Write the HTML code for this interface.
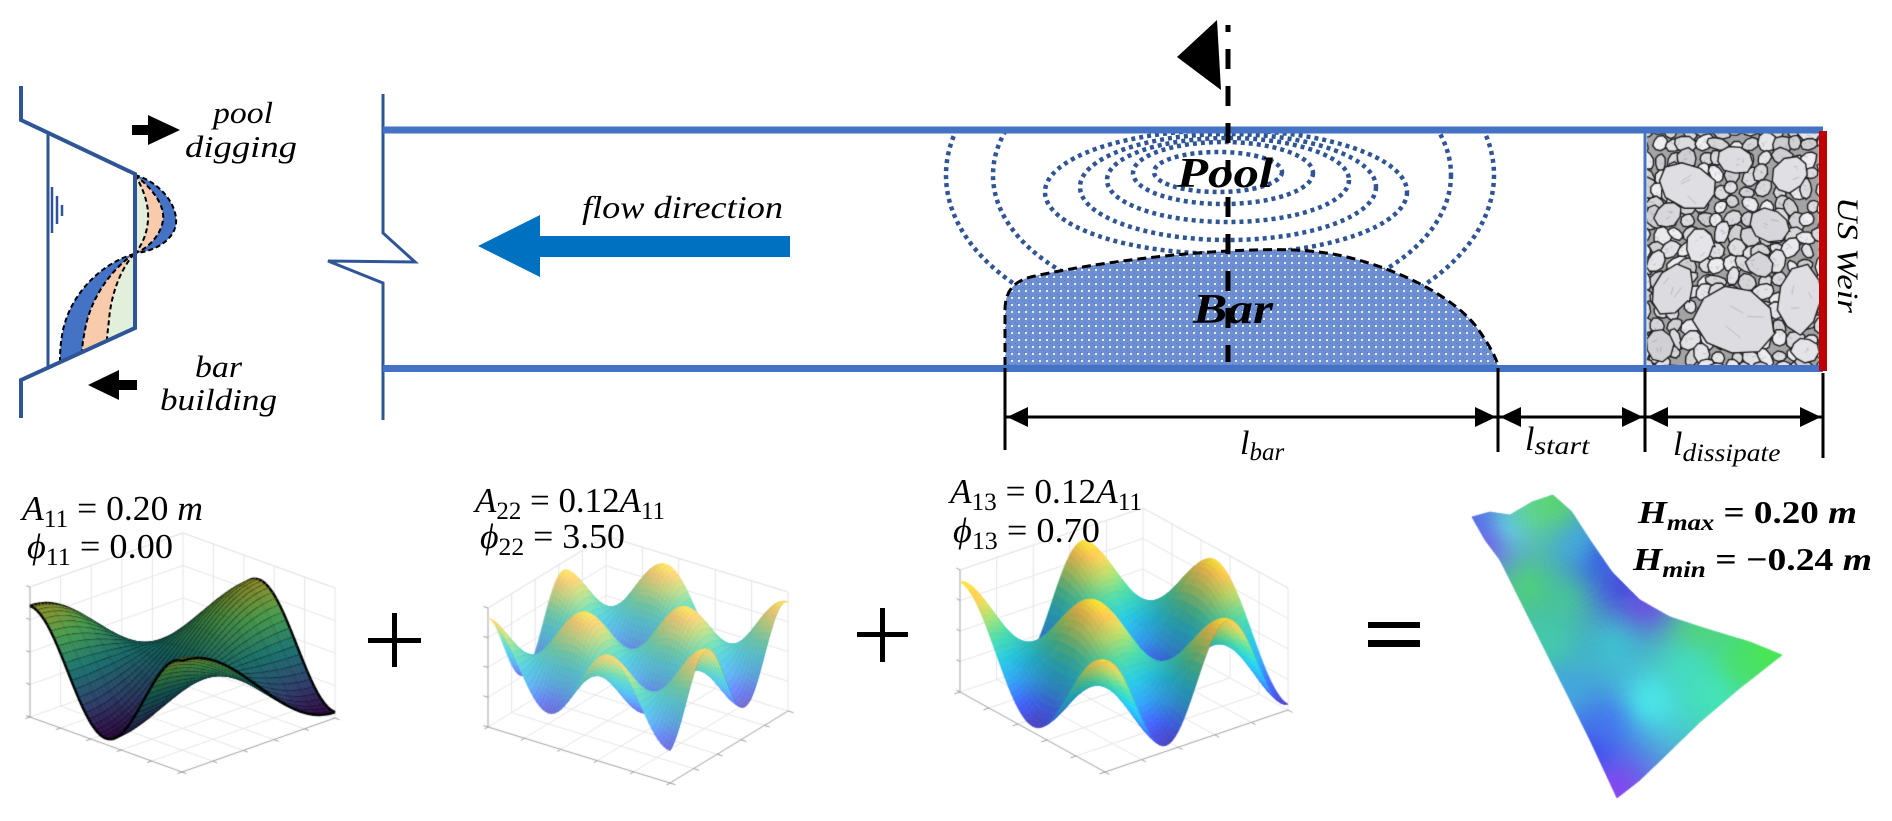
<!DOCTYPE html>
<html><head><meta charset="utf-8">
<style>
html,body{margin:0;padding:0;background:#fff;}
#wrap{position:relative;width:1892px;height:821px;overflow:hidden;background:#fff;}
#cv,#sv{position:absolute;left:0;top:0;}
</style></head><body><div id="wrap">
<canvas id="cv" width="1892" height="821"></canvas>
<svg id="sv" width="1892" height="821" viewBox="0 0 1892 821" xmlns="http://www.w3.org/2000/svg">
<defs>
<pattern id="dots" width="7" height="7" patternUnits="userSpaceOnUse">
<rect width="7" height="7" fill="#6f8fd3"/>
<rect x="0" y="0" width="1" height="1" fill="#4a74c8"/>
<rect x="2" y="2" width="1" height="1" fill="#4a74c8"/>
<rect x="4" y="4" width="1" height="1" fill="#4a74c8"/>
<rect x="3" y="3" width="2" height="2" fill="#ffffff" opacity="0.85"/>
</pattern>
<clipPath id="chan"><rect x="383" y="133" width="1440" height="232"/></clipPath>
</defs>

<!-- ===== Cross-section (left) ===== -->
<path d="M135,175 C160,182 178,205 176,224 C173,242 152,252 135,253 Z" fill="#4472c4"/>
<path d="M135,175 C152,188 165,205 163,220 C161,236 146,250 135,253 Z" fill="#f8cbad"/>
<path d="M135,175 C144,190 149,205 148,220 C147,236 140,248 135,253 Z" fill="#e2efda"/>
<g fill="none" stroke="#000" stroke-width="2" stroke-dasharray="5 3">
<path d="M135,175 C160,182 178,205 176,224 C173,242 152,252 135,253"/>
<path d="M135,175 C152,188 165,205 163,220 C161,236 146,250 135,253"/>
<path d="M135,175 C144,190 149,205 148,220 C147,236 140,248 135,253"/>
</g>
<path d="M134,254 C105,262 72,290 63,330 C60,345 60,355 60,362 L135,328 Z" fill="#4472c4"/>
<path d="M134,254 C110,270 90,300 85,330 C83,340 82,348 82,352 L135,328 Z" fill="#f8cbad"/>
<path d="M134,254 C120,270 111,295 109,320 C108,330 107,335 107,341 L135,328 Z" fill="#e2efda"/>
<g fill="none" stroke="#000" stroke-width="2" stroke-dasharray="5 3">
<path d="M134,254 C105,262 72,290 63,330 C60,345 60,355 60,362"/>
<path d="M134,254 C110,270 90,300 85,330 C83,340 82,348 82,352"/>
<path d="M134,254 C120,270 111,295 109,320 C108,330 107,335 107,341"/>
</g>
<g fill="none" stroke="#2f5597" stroke-width="4" stroke-linejoin="miter">
<polyline points="21,86 21,120 135,174 135,328 21,380 21,418"/>
</g>
<line x1="48" y1="133" x2="48" y2="367" stroke="#2f5597" stroke-width="3"/>
<g stroke="#2f5597" stroke-width="2.5">
<line x1="52" y1="187" x2="52" y2="233"/>
<line x1="57" y1="196" x2="57" y2="224"/>
<line x1="62" y1="205" x2="62" y2="216"/>
</g>
<polygon points="132,125 148,125 148,115 180,130 148,145 148,135 132,135" fill="#000"/>
<polygon points="137,380 119,380 119,370 88,385 119,400 119,390 137,390" fill="#000"/>
<g font-family="'Liberation Serif', serif" font-style="italic" fill="#000">
<text x="213" y="123" font-size="31" textLength="60" lengthAdjust="spacingAndGlyphs">pool</text>
<text x="185" y="157" font-size="31" textLength="112" lengthAdjust="spacingAndGlyphs">digging</text>
<text x="195" y="377" font-size="31" textLength="47" lengthAdjust="spacingAndGlyphs">bar</text>
<text x="160" y="410" font-size="31" textLength="117" lengthAdjust="spacingAndGlyphs">building</text>
</g>

<!-- ===== Channel ===== -->
<polyline points="383,94 383,233 415,262 328,261 383,283 383,420" fill="none" stroke="#2f5597" stroke-width="3"/>

<g clip-path="url(#chan)" fill="none" stroke="#2f5597" stroke-width="4.5" stroke-dasharray="4 4">
<ellipse cx="1220" cy="175" rx="274" ry="165"/>
<ellipse cx="1222" cy="175" rx="229" ry="135"/>
<ellipse cx="1226" cy="192" rx="181" ry="62"/>
<ellipse cx="1228" cy="187" rx="148" ry="53"/>
<ellipse cx="1228" cy="180" rx="121" ry="42"/>
<ellipse cx="1223" cy="173" rx="90" ry="31"/>
<ellipse cx="1218" cy="172" rx="64" ry="20"/>
</g>

<path d="M1005,368 L1005,310 C1005,290 1015,280 1035,276 C1070,268 1150,255 1228,251 C1270,249 1310,248 1347,257 C1400,270 1450,295 1475,325 C1490,345 1497,360 1498,368 Z" fill="url(#dots)"/>
<path d="M1005,366 L1005,310 C1005,290 1015,280 1035,276 C1070,268 1150,255 1228,251 C1270,249 1310,248 1347,257 C1400,270 1450,295 1475,325 C1490,345 1497,360 1498,366" fill="none" stroke="#000" stroke-width="3" stroke-dasharray="9 5"/>

<line x1="383" y1="130" x2="1823" y2="130" stroke="#4472c4" stroke-width="7"/>
<line x1="383" y1="368.5" x2="1823" y2="368.5" stroke="#4472c4" stroke-width="7"/>
<line x1="1645" y1="130" x2="1645" y2="368" stroke="#4472c4" stroke-width="3"/>
<rect x="1819" y="131" width="8" height="240" fill="#c00000"/>

<polygon points="790,236 540,236 540,215 478,246 540,277 540,257 790,257" fill="#0070c0"/>
<text x="582" y="218" font-family="'Liberation Serif', serif" font-style="italic" font-size="32" textLength="201" lengthAdjust="spacingAndGlyphs">flow direction</text>

<line x1="1228" y1="25" x2="1228" y2="362" stroke="#000" stroke-width="5" stroke-dasharray="20 17" stroke-dashoffset="13"/>
<polygon points="1177,57 1217,20 1221,90" fill="#000"/>

<g font-family="'Liberation Serif', serif" font-style="italic" font-weight="bold" fill="#000">
<text x="1177" y="187" font-size="42" textLength="96" lengthAdjust="spacingAndGlyphs">Pool</text>
<text x="1193" y="323" font-size="42" textLength="80" lengthAdjust="spacingAndGlyphs">Bar</text>
</g>

<text transform="translate(1838,197) rotate(90)" font-family="'Liberation Serif', serif" font-style="italic" font-size="30" textLength="116" lengthAdjust="spacingAndGlyphs">US Weir</text>

<g stroke="#000" stroke-width="3">
<line x1="1005" y1="368" x2="1005" y2="450"/>
<line x1="1498" y1="368" x2="1498" y2="452"/>
<line x1="1645" y1="368" x2="1645" y2="452"/>
<line x1="1823" y1="373" x2="1823" y2="458"/>
<line x1="1005" y1="417" x2="1823" y2="417"/>
</g>
<g fill="#000">
<polygon points="1007,417 1028,407 1028,427"/>
<polygon points="1496,417 1475,407 1475,427"/>
<polygon points="1500,417 1521,407 1521,427"/>
<polygon points="1643,417 1622,407 1622,427"/>
<polygon points="1647,417 1668,407 1668,427"/>
<polygon points="1821,417 1800,407 1800,427"/>
</g>
<g font-family="'Liberation Serif', serif" font-style="italic" fill="#000">
<text x="1240" y="454" font-size="34">l<tspan font-size="25" dy="6">bar</tspan></text>
<text x="1525" y="450" font-size="34">l<tspan font-size="25" dy="4" textLength="55" lengthAdjust="spacingAndGlyphs">start</tspan></text>
<text x="1673" y="455" font-size="34">l<tspan font-size="25" dy="6" textLength="98" lengthAdjust="spacingAndGlyphs">dissipate</tspan></text>
</g>

<g font-family="'Liberation Serif', serif" fill="#000">
<text x="22" y="520" font-size="35" textLength="181" lengthAdjust="spacingAndGlyphs"><tspan font-style="italic">A</tspan><tspan font-size="25" dy="7">11</tspan><tspan dy="-7"> = 0.20 </tspan><tspan font-style="italic">m</tspan></text>
<text x="27" y="558" font-size="35" textLength="146" lengthAdjust="spacingAndGlyphs"><tspan font-style="italic">ϕ</tspan><tspan font-size="25" dy="7">11</tspan><tspan dy="-7"> = 0.00</tspan></text>

<text x="475" y="512" font-size="35" textLength="190" lengthAdjust="spacingAndGlyphs"><tspan font-style="italic">A</tspan><tspan font-size="25" dy="7">22</tspan><tspan dy="-7"> = 0.12</tspan><tspan font-style="italic">A</tspan><tspan font-size="25" dy="7">11</tspan></text>
<text x="480" y="548" font-size="35" textLength="145" lengthAdjust="spacingAndGlyphs"><tspan font-style="italic">ϕ</tspan><tspan font-size="25" dy="7">22</tspan><tspan dy="-7"> = 3.50</tspan></text>

<text x="950" y="503" font-size="35" textLength="192" lengthAdjust="spacingAndGlyphs"><tspan font-style="italic">A</tspan><tspan font-size="25" dy="7">13</tspan><tspan dy="-7"> = 0.12</tspan><tspan font-style="italic">A</tspan><tspan font-size="25" dy="7">11</tspan></text>
<text x="953" y="542" font-size="35" textLength="147" lengthAdjust="spacingAndGlyphs"><tspan font-style="italic">ϕ</tspan><tspan font-size="25" dy="7">13</tspan><tspan dy="-7"> = 0.70</tspan></text>

<text x="1638" y="523" font-size="32" font-weight="bold" textLength="219" lengthAdjust="spacingAndGlyphs"><tspan font-style="italic">H</tspan><tspan font-size="23" dy="7" font-style="italic">max</tspan><tspan dy="-7"> = 0.20 </tspan><tspan font-style="italic">m</tspan></text>
<text x="1633" y="570" font-size="32" font-weight="bold" textLength="239" lengthAdjust="spacingAndGlyphs"><tspan font-style="italic">H</tspan><tspan font-size="23" dy="7" font-style="italic">min</tspan><tspan dy="-7"> = −0.24 </tspan><tspan font-style="italic">m</tspan></text>
</g>

<g fill="#000">
<rect x="368" y="638" width="53" height="5"/>
<rect x="392" y="613" width="5" height="54"/>
<rect x="857" y="632" width="51" height="5"/>
<rect x="880" y="608" width="5" height="54"/>
<rect x="1368" y="622" width="52" height="6"/>
<rect x="1368" y="640" width="52" height="7"/>
</g>
</svg>
</div>
<script>
(function(){
var cv=document.getElementById('cv');var ctx=cv.getContext('2d');
function hex(h){return [parseInt(h.slice(1,3),16),parseInt(h.slice(3,5),16),parseInt(h.slice(5,7),16)];}
function cm(stops){stops=stops.map(function(s){return [s[0],hex(s[1])];});
 return function(t){t=Math.max(0,Math.min(1,t));for(var i=1;i<stops.length;i++){if(t<=stops[i][0]){var a=stops[i-1],b=stops[i],k=(t-a[0])/(b[0]-a[0]);return [0,1,2].map(function(q){return a[1][q]+(b[1][q]-a[1][q])*k;});}}return stops[stops.length-1][1].slice();};}
var viridis=cm([[0,'#440154'],[0.25,'#3b528b'],[0.5,'#21918c'],[0.75,'#5ec962'],[1,'#e0c830']]);
var parula=cm([[0,'#3e26a8'],[0.15,'#2f4ff0'],[0.3,'#1c8ee0'],[0.45,'#12b0c8'],[0.6,'#38c08f'],[0.75,'#a0c455'],[0.88,'#f2b940'],[1,'#f9f50e']]);
function rgb(c){return 'rgb('+c.map(function(x){return Math.round(Math.max(0,Math.min(255,x)));}).join(',')+')';}
function line(a,b){ctx.beginPath();ctx.moveTo(a[0],a[1]);ctx.lineTo(b[0],b[1]);ctx.stroke();}

function plot(c){
 var P=function(u,v,w){return [c.O[0]+u*c.Ex[0]+v*c.Ey[0]+w*c.Ez[0], c.O[1]+u*c.Ex[1]+v*c.Ey[1]+w*c.Ez[1]];};
 ctx.lineWidth=1;ctx.strokeStyle='#e4e4e4';
 for(var k=1;k<5;k++){var t=k/5;
   line(P(t,0,0),P(t,1,0));line(P(0,t,0),P(1,t,0));
   line(P(1,t,0),P(1,t,1));line(P(t,1,0),P(t,1,1));}
 for(k=1;k<=4;k++){t=k/4;line(P(1,0,t),P(1,1,t));line(P(0,1,t),P(1,1,t));}
 line(P(1,1,0),P(1,1,1));line(P(0,1,0),P(0,1,1));line(P(1,0,1),P(1,1,1));line(P(0,1,1),P(1,1,1));line(P(1,1,0),P(1,0,0));line(P(1,1,0),P(0,1,0));
 ctx.strokeStyle='#a0a0a0';
 line(P(0,0,0),P(1,0,0));line(P(0,0,0),P(0,1,0));line(P(1,0,0),P(1,0,1));
 for(k=0;k<=5;k++){t=k/5;line(P(t,0,0),P(t,-0.03,0));line(P(0,t,0),P(-0.03,t,0));}
 for(k=0;k<=4;k++){t=k/4;line(P(1,0,t),P(1.025,0,t));}
 var n=c.n,cells=[];
 for(var i=0;i<n;i++)for(var j=0;j<n;j++){cells.push([i,j,P((i+.5)/n,(j+.5)/n,0)[1]]);}
 cells.sort(function(a,b){return a[2]-b[2];});
 var W=function(z){return c.w0+(c.w1-c.w0)*z;};
 for(var q=0;q<cells.length;q++){
  i=cells[q][0];j=cells[q][1];
  var u0=i/n,u1=(i+1)/n,v0=j/n,v1=(j+1)/n;
  var z00=c.f(u0,v0),z10=c.f(u1,v0),z11=c.f(u1,v1),z01=c.f(u0,v1);
  var p=[P(u0,v0,W(z00)),P(u1,v0,W(z10)),P(u1,v1,W(z11)),P(u0,v1,W(z01))];
  var zc=(z00+z10+z11+z01)/4;
  var col=c.cmap(zc);
  var du=((z10+z11)-(z00+z01))*n/2, dv=((z01+z11)-(z00+z10))*n/2;
  var s=1+c.shade*(0.10*du-0.10*dv);
  s=Math.max(0.7,Math.min(1.25,s));
  col=col.map(function(x){return x*s*(c.dark||1);});
  if(c.wh){col=col.map(function(x){return x*(1-c.wh)+255*c.wh;});}
  ctx.beginPath();ctx.moveTo(p[0][0],p[0][1]);for(var r=1;r<4;r++)ctx.lineTo(p[r][0],p[r][1]);ctx.closePath();
  ctx.fillStyle=rgb(col);ctx.fill();
  ctx.lineWidth=0.6;ctx.strokeStyle=rgb(col);ctx.stroke();
  if(c.mesh==='black'){
    ctx.lineWidth=1.4;ctx.strokeStyle='rgba(0,0,0,0.85)';
    line(p[0],p[3]);
    if(j%4===0){ctx.lineWidth=0.8;ctx.strokeStyle='rgba(0,0,0,0.55)';line(p[0],p[1]);}
    if(j===0||j===n-1||i===n-1||i===0){ctx.strokeStyle='#000';ctx.lineWidth=2.4;
      if(j===0)line(p[0],p[1]); if(i===0)line(p[0],p[3]); if(i===n-1)line(p[1],p[2]); if(j===n-1)line(p[3],p[2]);}
  } else if(c.mesh==='color'){
    var dc=c.cmap(zc).map(function(x){return x*0.85;});
    ctx.lineWidth=0.5;ctx.strokeStyle=rgb(dc);
    line(p[0],p[3]);
  } else if(c.mesh==='faint'){
    if(i%4===0){ctx.lineWidth=0.5;ctx.strokeStyle='rgba(40,40,80,0.25)';line(p[0],p[3]);}
  }
 }
}
var PI=Math.PI;
plot({O:[182,772],Ex:[-152,-55],Ey:[153,-54],Ez:[0,-130],w0:0.0,w1:0.9,n:44,cmap:viridis,shade:0.6,mesh:'black',dark:0.68,
 f:function(u,v){return 0.5+0.45*Math.cos(2*PI*u)*Math.cos(PI*v);}});
plot({O:[670,783],Ex:[-182,-56],Ey:[118,-72],Ez:[0,-119],w0:0.22,w1:0.97,n:60,cmap:parula,shade:0.3,mesh:'color',wh:0.3,
 f:function(u,v){return 0.5+0.45*Math.cos(3.0*PI*(1-u))*Math.cos(3.0*PI*v+0.3);}});
plot({O:[1105,772],Ex:[-145,-80],Ey:[183,-62],Ez:[0,-122],w0:0.0,w1:0.95,n:60,cmap:parula,shade:0.5,mesh:'faint',wh:0.08,
 f:function(u,v){return 0.5+0.45*Math.cos(2*PI*(1-u))*Math.cos(3*PI*v);}});

function pl(pts){var L=[0];for(var i=1;i<pts.length;i++){L.push(L[i-1]+Math.hypot(pts[i][0]-pts[i-1][0],pts[i][1]-pts[i-1][1]));}
 var T=L[L.length-1];
 return function(s){var d=s*T,i=1;while(i<pts.length-1&&L[i]<d)i++;var k=(d-L[i-1])/((L[i]-L[i-1])||1);return [pts[i-1][0]+(pts[i][0]-pts[i-1][0])*k,pts[i-1][1]+(pts[i][1]-pts[i-1][1])*k];};}
var Tc=pl([[1472,517],[1490,512],[1510,515],[1532,502],[1553,495]]);
var Bc=pl([[1617,798],[1640,780],[1665,756],[1700,722],[1740,688],[1782,655]]);
var Lc=pl([[1472,517],[1485,540],[1500,560],[1530,620],[1560,680],[1590,740],[1617,798]]);
var Rc=pl([[1553,495],[1572,512],[1590,540],[1612,572],[1640,600],[1670,617],[1710,630],[1750,642],[1782,655]]);
var A=[1472,517],B=[1553,495],C=[1782,655],D=[1617,798];
function S(s,t){var T1=Tc(s),B1=Bc(s),L1=Lc(t),R1=Rc(t);var o=[0,0];
 for(var q=0;q<2;q++){o[q]=(1-t)*T1[q]+t*B1[q]+(1-s)*L1[q]+s*R1[q]-((1-s)*(1-t)*A[q]+s*(1-t)*B[q]+(1-s)*t*D[q]+s*t*C[q]);}return o;}
var cps=[[1490,542,'#7b40f0'],[1478,522,'#4a60ee'],[1508,528,'#60eef0'],[1552,505,'#58dc58'],[1530,512,'#5cdc80'],
[1530,585,'#4cd868'],[1550,640,'#40d0a8'],[1600,560,'#3050e8'],[1622,585,'#4038e0'],[1645,604,'#7440e8'],[1578,545,'#40b0e8'],
[1700,632,'#50d870'],[1765,652,'#48e848'],[1690,665,'#40e0c8'],[1650,700,'#48f4f0'],[1715,690,'#40e8c0'],[1605,722,'#4070f0'],
[1590,752,'#3a44f0'],[1612,788,'#8a40f0'],[1565,690,'#40a8e0'],[1565,600,'#44cc90'],[1615,645,'#38c8d0'],[1740,665,'#48e060']];
cps=cps.map(function(c){return [c[0],c[1],hex(c[2])];});
function colAt(x,y){var ws=0,acc=[0,0,0];for(var i=0;i<cps.length;i++){var dx=x-cps[i][0],dy=y-cps[i][1];var w=1/Math.pow(dx*dx+dy*dy+400,1.4);ws+=w;for(var q=0;q<3;q++)acc[q]+=w*cps[i][2][q];}return acc.map(function(a){return a/ws;});}
var N=70;
for(var i=0;i<N;i++)for(var j=0;j<N;j++){
 var p=[S(i/N,j/N),S((i+1)/N,j/N),S((i+1)/N,(j+1)/N),S(i/N,(j+1)/N)];
 var cx=(p[0][0]+p[2][0])/2,cy=(p[0][1]+p[2][1])/2;
 var col=rgb(colAt(cx,cy));
 ctx.beginPath();ctx.moveTo(p[0][0],p[0][1]);for(var r=1;r<4;r++)ctx.lineTo(p[r][0],p[r][1]);ctx.closePath();
 ctx.fillStyle=col;ctx.fill();ctx.lineWidth=0.8;ctx.strokeStyle=col;ctx.stroke();
}

var seed=12345;function rnd(){seed=(seed*16807)%2147483647;return (seed-1)/2147483646;}
ctx.save();ctx.beginPath();ctx.rect(1647,133,172,233);ctx.clip();
ctx.fillStyle='#a4a4a4';ctx.fillRect(1647,133,172,233);
function rock(x,y,rx,ry,a,g){
 ctx.beginPath();var m=9;
 for(var k=0;k<=m;k++){var th=k/m*2*PI;var rr=1+0.18*(rnd()-0.5);var px=Math.cos(th)*rx*rr,py=Math.sin(th)*ry*rr;
  var X=x+px*Math.cos(a)-py*Math.sin(a),Y=y+px*Math.sin(a)+py*Math.cos(a);if(k===0)ctx.moveTo(X,Y);else ctx.lineTo(X,Y);}
 ctx.closePath();ctx.fillStyle='rgb('+g+','+g+','+(g+4)+')';ctx.fill();ctx.lineWidth=1.4;ctx.strokeStyle='#1e1e1e';ctx.stroke();
 ctx.lineWidth=0.6;ctx.strokeStyle='rgba(60,60,60,0.35)';
 for(var s=0;s<3;s++){ctx.beginPath();var sx=x+(rnd()-0.5)*rx,sy=y+(rnd()-0.5)*ry;ctx.moveTo(sx,sy);ctx.lineTo(sx+(rnd()-0.5)*rx*0.8,sy+(rnd()-0.5)*ry*0.8);ctx.stroke();}
}
for(var yy=126;yy<375;yy+=15){for(var xx=1640;xx<1830;xx+=15){
 rock(xx+rnd()*8,yy+rnd()*8,6+rnd()*6,5+rnd()*5,rnd()*PI,205+Math.floor(rnd()*35));}}
var big=[[1688,185,30,22,0.4],[1735,160,18,14,0.2],[1790,175,16,20,0.8],[1770,225,20,16,0.3],[1700,245,14,18,0.1],
[1672,290,20,26,0.6],[1735,320,42,36,0.3],[1800,300,22,34,0.1],[1660,345,14,16,0],[1760,265,14,12,0.5],[1668,215,12,14,0.9],[1805,350,14,12,0.2]];
for(var b=0;b<big.length;b++){var q=big[b];rock(q[0],q[1],q[2],q[3],q[4],205+Math.floor(rnd()*30));}
ctx.restore();
})();
</script>
</body></html>
